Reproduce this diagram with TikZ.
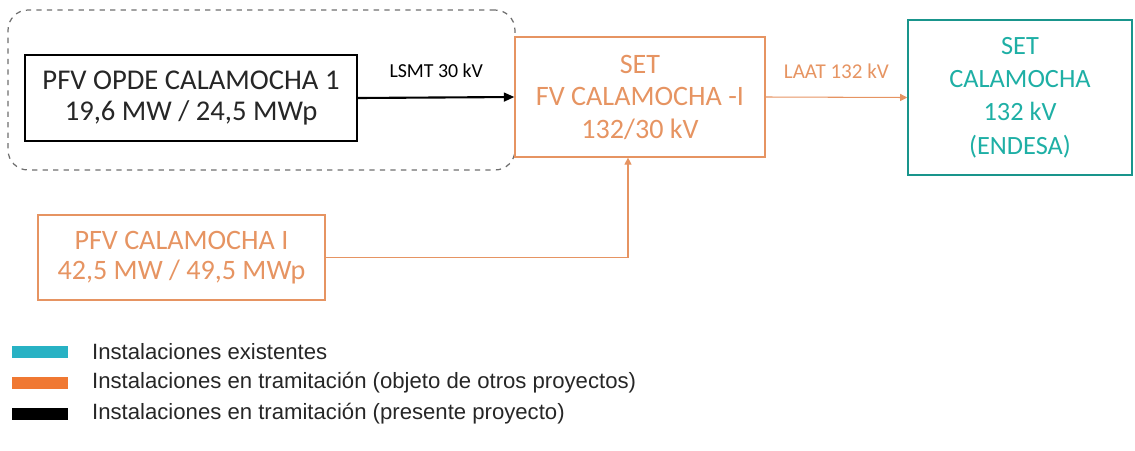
\documentclass[tikz,border=0pt]{standalone}
\usepackage{fontspec}
\setmainfont{Carlito}
\newfontfamily\legendfont{Liberation Sans}
\usetikzlibrary{positioning, arrows.meta}
\definecolor{SetTeal}{RGB}{30,175,165}
\definecolor{LegTeal}{RGB}{40,178,196}
\definecolor{TramOrange}{RGB}{230,148,98}
\definecolor{LegOrange}{RGB}{240,120,50}
\definecolor{DashGray}{RGB}{110,110,110}
\tikzset{
    blackbox/.style={rectangle, draw=black, line width=1.3pt, align=center, font=\fontsize{16.3}{17.5}\selectfont, text=black!85},
    orangebox/.style={rectangle, draw=TramOrange, line width=0.7pt, align=center, font=\fontsize{16}{18.5}\selectfont, text=TramOrange},
    tealbox/.style={rectangle, draw=SetTeal!85!black, line width=0.9pt, align=center, font=\fontsize{15}{19}\selectfont, text=SetTeal},
    arrblack/.style={-{Triangle[length=6pt, width=5pt]}, line width=1.2pt, black},
    arrorange/.style={-{Triangle[length=4pt, width=4pt]}, line width=0.6pt, TramOrange},
    linelbl/.style={font=\fontsize{11.3}{13}\selectfont, inner sep=2pt},
    swatch/.style={rectangle, minimum width=1.12cm, minimum height=0.24cm, inner sep=0pt, fill=#1},
    legtxt/.style={font=\legendfont\fontsize{12.6}{14}\selectfont, anchor=west, text=black!85}
}
\begin{document}
\begin{tikzpicture}[x=0.02cm, y=-0.02cm]
    \useasboundingbox (0,0) rectangle (1135,450);

    % --- PRESENT PROJECT GROUP ---
    \node[rectangle, draw=DashGray, dashed, line width=0.7pt, rounded corners=0.4cm, minimum width=10.14cm, minimum height=3.2cm] (group) at (261.5,90) {};
    \node[blackbox, minimum width=6.64cm, minimum height=1.72cm] (opde) at (191,98) {PFV OPDE CALAMOCHA 1\\19,6 MW / 24,5 MWp};

    % --- SUBSTATIONS ---
    \node[orangebox, minimum width=5cm, minimum height=2.4cm] (setfv) at (640,97) {SET\\FV CALAMOCHA -I\\132/30 kV};
    \node[tealbox, minimum width=4.48cm, minimum height=3.1cm] (setcal) at (1020,97.5) {SET\\CALAMOCHA\\132 kV\\(ENDESA)};

    % --- OTHER PLANT ---
    \node[orangebox, font=\fontsize{16}{17}\selectfont, minimum width=5.74cm, minimum height=1.7cm] (pfvcal) at (181.5,257.5) {PFV CALAMOCHA I\\42,5 MW / 49,5 MWp};

    % --- LINES ---
    \draw[arrblack] (opde.east) -- node[linelbl, above=0.3cm] {LSMT 30 kV} (setfv.west);
    \draw[arrorange] (setfv.east) -- node[linelbl, above=0.3cm, text=TramOrange, font=\fontsize{12}{14}\selectfont] {LAAT 132 kV} (setcal.west);
    \draw[arrorange] (pfvcal.east) -| ([xshift=-0.24cm]setfv.south);

    % --- LEGEND ---
    \node[swatch=LegTeal] (sw1) at (40,352) {};
    \node[swatch=LegOrange] (sw2) at (40,383) {};
    \node[swatch=black] (sw3) at (40,414) {};
    \node[legtxt] at (86,352) {Instalaciones existentes};
    \node[legtxt] at (86,383) {Instalaciones en tramitación (objeto de otros proyectos)};
    \node[legtxt] at (86,414) {Instalaciones en tramitación (presente proyecto)};
\end{tikzpicture}
\end{document}
